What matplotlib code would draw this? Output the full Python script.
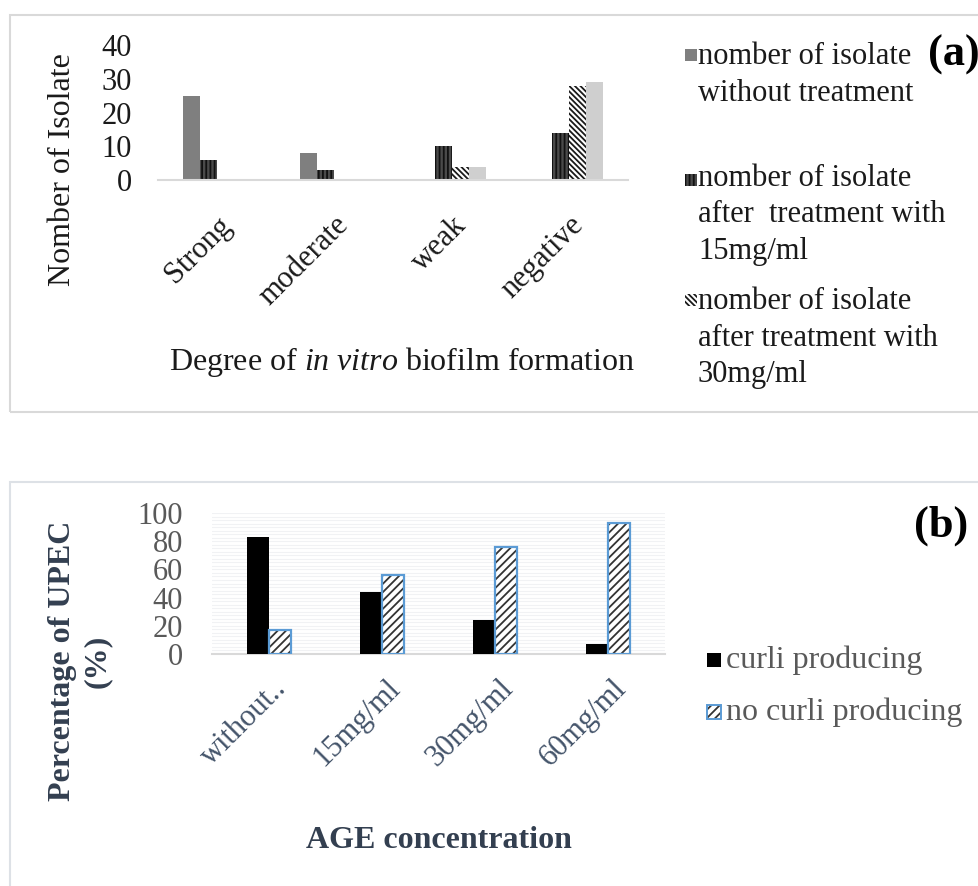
import matplotlib
matplotlib.use('Agg')
import matplotlib.pyplot as plt
import numpy as np
from matplotlib.patches import Rectangle
from matplotlib.transforms import ScaledTranslation

plt.rcParams['font.family'] = ['Liberation Serif', 'DejaVu Serif']
plt.rcParams['mathtext.fontset'] = 'custom'
plt.rcParams['mathtext.rm'] = 'Liberation Serif'
plt.rcParams['mathtext.it'] = 'Liberation Serif:italic'
plt.rcParams['hatch.linewidth'] = 1.3

# (a) biofilm formation
cats_a = ['Strong', 'moderate', 'weak', 'negative']
no_treat = [25, 8, 0, 0]
treat_15 = [6, 3, 10, 14]
treat_30 = [0, 0, 4, 28]
treat_60 = [0, 0, 4, 29]
legend_a = ['nomber of isolate\nwithout treatment',
            'nomber of isolate\nafter  treatment with\n15mg/ml',
            'nomber of isolate\nafter treatment with\n30mg/ml']

# (b) curli production
cats_b = ['without..', '15mg/ml', '30mg/ml', '60mg/ml']
curli = [83, 44, 24, 7]
no_curli = [17, 56, 76, 93]
legend_b = ['curli producing', 'no curli producing']

W, H = 979, 886
fig = plt.figure(figsize=(W / 100, H / 100), dpi=100)

def fx(px):
    return px / W

def fy(py):
    return 1 - py / H

def shift_labels(ax, dx, dy):
    # move rotated tick labels by dx, dy pixels (dy downwards)
    off = ScaledTranslation(dx / 100, -dy / 100, fig.dpi_scale_trans)
    for lab in ax.get_xticklabels():
        lab.set_transform(lab.get_transform() + off)

# panel frames
fig.patches.append(Rectangle((fx(10), fy(412)), fx(990), 397 / H, transform=fig.transFigure,
                             fill=False, edgecolor='#d9d9d9', lw=1.5))
fig.patches.append(Rectangle((fx(10), fy(900)), fx(990), 418 / H, transform=fig.transFigure,
                             fill=False, edgecolor='#dde1e6', lw=1.5))

# ---------- panel (a) ----------
ax1 = fig.add_axes([fx(158), fy(180), fx(470), 135 / H])
x = np.arange(len(cats_a))
w = 0.145
ax1.bar(x - 1.5 * w, no_treat, w, color='#7f7f7f', lw=0)
ax1.bar(x - 0.5 * w, treat_15, w, color='#4a4a4a', edgecolor='#111111', hatch='||||', lw=0)
ax1.bar(x + 0.5 * w, treat_30, w, color='white', edgecolor='#1a1a1a', hatch='\\\\\\\\\\\\', lw=0)
ax1.bar(x + 1.5 * w, treat_60, w, color='#cfcfcf', lw=0)
ax1.set_xlim(-0.5, 3.5)
ax1.set_ylim(0, 40)
ax1.set_yticks([0, 10, 20, 30, 40])
for s in ['top', 'right', 'left']:
    ax1.spines[s].set_visible(False)
ax1.spines['bottom'].set_color('#d9d9d9')
ax1.spines['bottom'].set_linewidth(1.5)
ax1.tick_params(length=0, labelsize=22, colors='#1a1a1a')
ax1.tick_params(axis='y', pad=19)
ax1.set_xticks(x)
ax1.set_xticklabels(cats_a, rotation=45, ha='right', va='center', rotation_mode='anchor')
ax1.tick_params(axis='x', pad=0)
shift_labels(ax1, 10, 41)
ax1.set_ylabel('Nomber of Isolate', fontsize=23, color='#1a1a1a', va='center')
ax1.yaxis.set_label_coords(-0.204, 0.074)
ax1.set_xlabel('Degree of $in\\ vitro$ biofilm formation', fontsize=23, color='#1a1a1a')
ax1.xaxis.set_label_coords(0.52, -1.35)
ax1.xaxis.label.set_va('center')

# legend (a)
marks_a = [dict(fc='#7f7f7f', hatch=None, ec='#7f7f7f'),
           dict(fc='#4a4a4a', hatch='||||', ec='#111111'),
           dict(fc='white', hatch='\\\\\\\\\\\\', ec='#1a1a1a')]
line_y = [55, 180, 300]
text_y = [75, 215, 338]
for lab, m, ly, ty in zip(legend_a, marks_a, line_y, text_y):
    fig.patches.append(Rectangle((fx(685), fy(ly + 6)), fx(12), 12 / H, transform=fig.transFigure,
                                 facecolor=m['fc'], edgecolor=m['ec'], hatch=m['hatch'], lw=0))
    fig.text(fx(698), fy(ty), lab, fontsize=22, va='center', ha='left',
             linespacing=1.32, color='#1a1a1a')
fig.text(fx(928), fy(55), '(a)', fontsize=32, fontweight='bold', va='center', ha='left')

# ---------- panel (b) ----------
ax2 = fig.add_axes([fx(212), fy(654), fx(453), 141 / H])
xb = np.arange(len(cats_b))
wb = 0.195
ax2.bar(xb - 0.5 * wb, curli, wb, color='black', lw=0, zorder=3)
ax2.bar(xb + 0.5 * wb, no_curli, wb, color='white', edgecolor='#333333', hatch='////', lw=0, zorder=3)
ax2.bar(xb + 0.5 * wb, no_curli, wb, fill=False, edgecolor='#5b9bd5', lw=1.6, zorder=4)
ax2.set_xlim(-0.5, 3.5)
ax2.set_ylim(0, 100)
ax2.set_yticks(range(0, 101, 20))
ax2.set_yticks(np.arange(0, 101, 2.5), minor=True)
ax2.grid(axis='y', which='both', color='#f1f2f4', lw=0.8, zorder=0)
for s in ['top', 'right', 'left']:
    ax2.spines[s].set_visible(False)
ax2.spines['bottom'].set_color('#d9d9d9')
ax2.spines['bottom'].set_linewidth(1.5)
ax2.tick_params(which='both', length=0, labelsize=22)
ax2.tick_params(axis='y', colors='#595959', pad=21)
ax2.set_xticks(xb)
ax2.set_xticklabels(cats_b, rotation=45, ha='right', va='center', rotation_mode='anchor',
                    color='#44546a')
ax2.tick_params(axis='x', pad=0)
shift_labels(ax2, 14, 30)
ax2.set_ylabel('Percentage of UPEC\n(%)', fontsize=23, fontweight='bold', color='#333f50',
               linespacing=1.25, va='center')
ax2.yaxis.set_label_coords(-0.291, -0.05)
ax2.set_xlabel('AGE concentration', fontsize=23, fontweight='bold', color='#333f50')
ax2.xaxis.set_label_coords(0.5, -1.32)
ax2.xaxis.label.set_va('center')

# legend (b)
marks_b = [dict(fc='black', hatch=None, ec='black'),
           dict(fc='white', hatch='////', ec='#333333')]
for lab, m, ly in zip(legend_b, marks_b, [660, 712]):
    fig.patches.append(Rectangle((fx(707), fy(ly + 7)), fx(14), 14 / H, transform=fig.transFigure,
                                 facecolor=m['fc'], edgecolor=m['ec'], hatch=m['hatch'], lw=0))
    fig.text(fx(726), fy(ly), lab, fontsize=23, va='center', ha='left', color='#595959')
fig.patches.append(Rectangle((fx(707), fy(719)), fx(14), 14 / H, transform=fig.transFigure,
                             fill=False, edgecolor='#5b9bd5', lw=1.4))
fig.text(fx(914), fy(526), '(b)', fontsize=32, fontweight='bold', va='center', ha='left')

fig.savefig('out.png', dpi=100)
